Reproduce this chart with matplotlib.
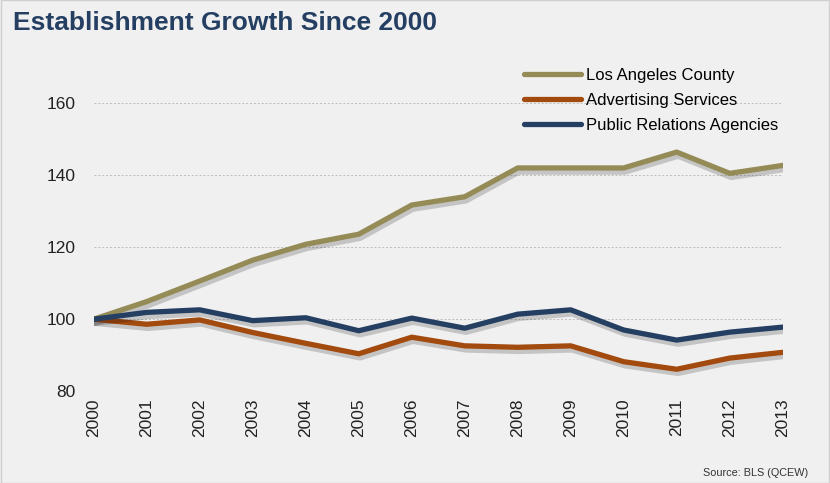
import matplotlib.pyplot as plt
import matplotlib.patheffects as pe

plt.rcParams['font.family'] = ['Liberation Sans', 'DejaVu Sans']

years = list(range(2000, 2014))
la_county = [100, 104.9, 110.6, 116.4, 120.8, 123.6, 131.7, 134.0, 142.0, 142.0, 142.0, 146.4, 140.5, 142.7]
advertising = [100, 98.6, 99.8, 96.3, 93.3, 90.4, 95.0, 92.6, 92.2, 92.6, 88.2, 86.1, 89.2, 90.8]
public_rel = [100, 101.9, 102.6, 99.6, 100.4, 96.8, 100.3, 97.5, 101.4, 102.6, 97.0, 94.2, 96.4, 97.8]

series = [
    ('Los Angeles County', la_county, '#958b57'),
    ('Advertising Services', advertising, '#a34a0f'),
    ('Public Relations Agencies', public_rel, '#243f62'),
]

bg = '#f0f0f0'
fig = plt.figure(figsize=(8.3, 4.83), dpi=100, facecolor=bg)
ax = fig.add_axes([0.113, 0.19, 0.83, 0.686])
ax.set_facecolor(bg)

# soft drop shadow under each line
shadow = [pe.SimpleLineShadow(offset=(1.0, -3.0), shadow_color='#000000', alpha=0.18),
          pe.Normal()]
for name, vals, color in series:
    ax.plot(years, vals, color=color, linewidth=3.8, label=name,
            solid_capstyle='round', solid_joinstyle='round', path_effects=shadow)

ax.set_xlim(2000, 2013)
ax.set_ylim(80, 172)
ax.set_yticks([80, 100, 120, 140, 160])
ax.set_xticks(years)
ax.set_xticklabels([str(y) for y in years], rotation=90)
ax.yaxis.grid(True, color='#bdbdbd', linestyle=(0, (2, 2)), linewidth=0.7)
ax.set_axisbelow(True)
for s in ax.spines.values():
    s.set_visible(False)
ax.tick_params(length=0, labelsize=12.5, colors='#222222')
ax.tick_params(axis='y', pad=13)
ax.tick_params(axis='x', pad=5)

leg = ax.legend(loc='upper right', bbox_to_anchor=(1.005, 1.0), frameon=False,
                fontsize=12, handlelength=3.4, handletextpad=0.3, labelspacing=0.6,
                borderaxespad=0.1)
for line in leg.get_lines():
    line.set_solid_capstyle('round')
    line.set_path_effects([])

fig.text(0.016, 0.938, 'Establishment Growth Since 2000', fontsize=19, fontweight='bold',
         color='#243f62', va='baseline', ha='left')
fig.text(0.974, 0.01, 'Source: BLS (QCEW)', fontsize=7.8, color='#333333', ha='right', va='bottom')

fig.patches.append(plt.Rectangle((0.001, 0.001), 0.998, 0.998, transform=fig.transFigure,
                                 fill=False, edgecolor='#d0d0d0', linewidth=1))

fig.savefig('out.png', dpi=100, facecolor=bg)
